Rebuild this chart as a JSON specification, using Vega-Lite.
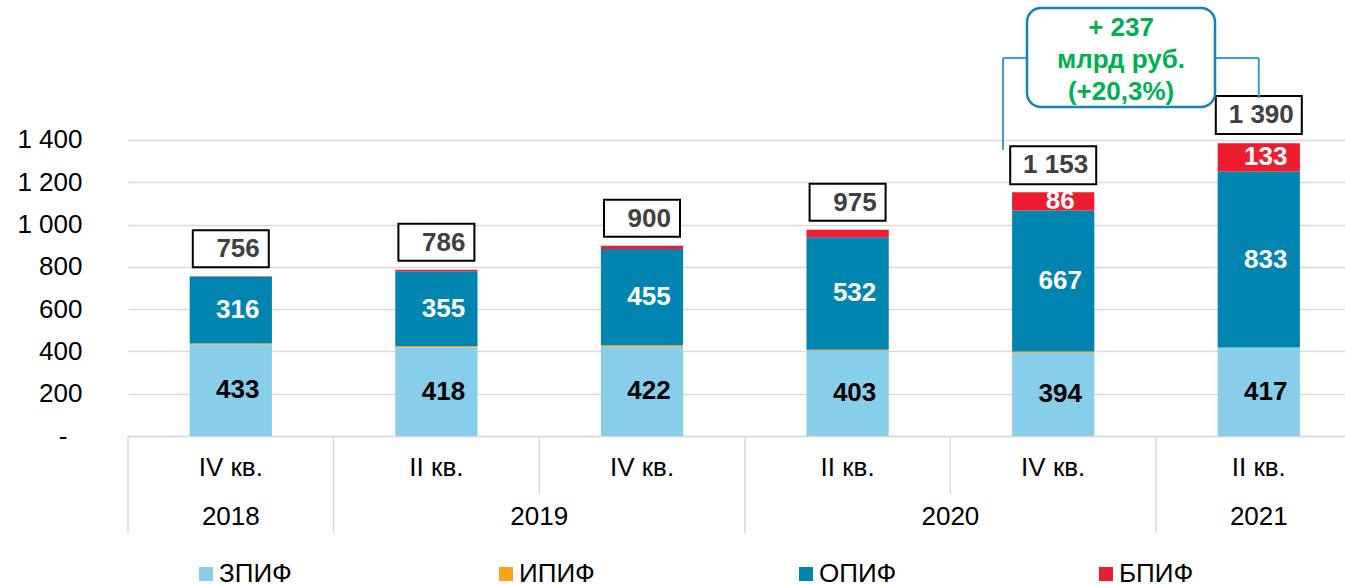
{
  "$schema": "https://vega.github.io/schema/vega-lite/v6.json",
  "width": 1217,
  "height": 436,
  "autosize": {"type": "none"},
  "padding": {"left": 128, "top": 0, "right": 0, "bottom": 148},
  "background": "white",
  "config": {
    "font": "Liberation Sans",
    "view": {"stroke": null},
    "text": {"font": "Liberation Sans"},
    "legend": {
      "orient": "none", "legendX": 65, "legendY": 561, "direction": "horizontal",
      "columns": 4, "gridAlign": "all", "columnPadding": 196, "symbolType": "square",
      "symbolSize": 196, "labelFontSize": 26, "labelFont": "Liberation Sans", "labelColor": "#000000",
      "labelOffset": 0, "padding": 0, "symbolStrokeWidth": 0, "labelLimit": 300
    }
  },
  "datasets": {
    "funds": [
      {"cat": "IV кв.|2018", "s": "ЗПИФ", "v": 433},
      {"cat": "IV кв.|2018", "s": "ИПИФ", "v": 5},
      {"cat": "IV кв.|2018", "s": "ОПИФ", "v": 316},
      {"cat": "IV кв.|2018", "s": "БПИФ", "v": 2},
      {"cat": "II кв.|2019", "s": "ЗПИФ", "v": 418},
      {"cat": "II кв.|2019", "s": "ИПИФ", "v": 6},
      {"cat": "II кв.|2019", "s": "ОПИФ", "v": 355},
      {"cat": "II кв.|2019", "s": "БПИФ", "v": 7},
      {"cat": "IV кв.|2019", "s": "ЗПИФ", "v": 422},
      {"cat": "IV кв.|2019", "s": "ИПИФ", "v": 7},
      {"cat": "IV кв.|2019", "s": "ОПИФ", "v": 455},
      {"cat": "IV кв.|2019", "s": "БПИФ", "v": 16},
      {"cat": "II кв.|2020", "s": "ЗПИФ", "v": 403},
      {"cat": "II кв.|2020", "s": "ИПИФ", "v": 5},
      {"cat": "II кв.|2020", "s": "ОПИФ", "v": 532},
      {"cat": "II кв.|2020", "s": "БПИФ", "v": 35},
      {"cat": "IV кв.|2020", "s": "ЗПИФ", "v": 394},
      {"cat": "IV кв.|2020", "s": "ИПИФ", "v": 6},
      {"cat": "IV кв.|2020", "s": "ОПИФ", "v": 667},
      {"cat": "IV кв.|2020", "s": "БПИФ", "v": 86},
      {"cat": "II кв.|2021", "s": "ЗПИФ", "v": 417},
      {"cat": "II кв.|2021", "s": "ИПИФ", "v": 1},
      {"cat": "II кв.|2021", "s": "ОПИФ", "v": 833},
      {"cat": "II кв.|2021", "s": "БПИФ", "v": 133}
    ],
    "totals": [
      {"cat": "IV кв.|2018", "total": 756, "label": "756"},
      {"cat": "II кв.|2019", "total": 786, "label": "786"},
      {"cat": "IV кв.|2019", "total": 900, "label": "900"},
      {"cat": "II кв.|2020", "total": 975, "label": "975"},
      {"cat": "IV кв.|2020", "total": 1153, "label": "1 153"},
      {"cat": "II кв.|2021", "total": 1390, "label": "1 390"}
    ],
    "cats": [
      {"cat": "IV кв.|2018", "q": "IV кв.", "year": "2018"},
      {"cat": "II кв.|2019", "q": "II кв.", "year": "2019"},
      {"cat": "IV кв.|2019", "q": "IV кв.", "year": "2019"},
      {"cat": "II кв.|2020", "q": "II кв.", "year": "2020"},
      {"cat": "IV кв.|2020", "q": "IV кв.", "year": "2020"},
      {"cat": "II кв.|2021", "q": "II кв.", "year": "2021"}
    ]
  },
  "layer": [
    {
      "data": {"name": "funds"},
      "transform": [
        {"calculate": "indexof(['ЗПИФ','ИПИФ','ОПИФ','БПИФ'], datum.s)", "as": "o"},
        {"stack": "v", "groupby": ["cat"], "sort": [{"field": "o"}], "as": ["v0", "v1"]}
      ],
      "mark": {"type": "bar", "width": {"band": 0.4}},
      "encoding": {
        "x": {
          "field": "cat", "type": "nominal", "sort": null,
          "scale": {"domain": ["IV кв.|2018", "II кв.|2019", "IV кв.|2019", "II кв.|2020", "IV кв.|2020", "II кв.|2021"], "range": [0, 1233.6], "paddingInner": 0, "paddingOuter": 0},
          "axis": {
            "title": null, "labelExpr": "split(datum.value, '|')[0]", "labelFontSize": 26, "labelColor": "#000000",
            "labelFont": "Liberation Sans", "labelBaseline": "middle", "labelPadding": 31, "ticks": false, "tickSize": 0,
            "domain": true, "domainColor": "#d9d9d9", "domainWidth": 1.5, "grid": false, "labelAngle": 0
          }
        },
        "y": {
          "field": "v0", "type": "quantitative",
          "scale": {"domain": [0, 2062], "nice": false},
          "axis": {
            "title": null, "values": [0, 200, 400, 600, 800, 1000, 1200, 1400],
            "labelExpr": "datum.value == 0 ? '-' : replace(format(datum.value, ','), ',', ' ')",
            "labelFontSize": 26, "labelColor": "#000000", "labelFont": "Liberation Sans",
            "labelPadding": {"condition": {"test": "datum.value == 0", "value": 61}, "value": 46},
            "ticks": false, "tickSize": 0, "domain": false, "grid": true, "gridColor": "#d9d9d9", "gridWidth": 1.5
          }
        },
        "y2": {"field": "v1"},
        "color": {
          "field": "s", "type": "nominal",
          "scale": {"domain": ["ЗПИФ", "ИПИФ", "ОПИФ", "БПИФ"], "range": ["#87CEEB", "#F9A51B", "#0085B0", "#ED1C2E"]},
          "legend": {"title": null}
        }
      }
    },
    {
      "data": {"name": "funds"},
      "transform": [
        {"calculate": "indexof(['ЗПИФ','ИПИФ','ОПИФ','БПИФ'], datum.s)", "as": "o"},
        {"stack": "v", "groupby": ["cat"], "sort": [{"field": "o"}], "as": ["v0", "v1"]},
        {"calculate": "(datum.v0 + datum.v1) / 2", "as": "mid"},
        {"filter": "datum.s != 'ИПИФ' && datum.v >= 50"}
      ],
      "mark": {"type": "text", "fontSize": 26, "fontWeight": "bold", "baseline": "middle", "align": "center", "dx": 7},
      "encoding": {
        "x": {"field": "cat", "type": "nominal", "title": null, "scale": {"domain": ["IV кв.|2018", "II кв.|2019", "IV кв.|2019", "II кв.|2020", "IV кв.|2020", "II кв.|2021"], "range": [0, 1233.6], "paddingInner": 0, "paddingOuter": 0}},
        "y": {"field": "mid", "type": "quantitative", "title": null, "scale": {"domain": [0, 2062], "nice": false}},
        "text": {"field": "v", "type": "quantitative"},
        "color": {
          "condition": {"test": "datum.s == 'ЗПИФ'", "value": "#000000"},
          "value": "#ffffff"
        }
      }
    },
    {
      "data": {"name": "cats"},
      "transform": [{"filter": "datum.q == 'II кв.' || datum.year == '2018'"}],
      "mark": {"type": "rule", "color": "#d9d9d9", "strokeWidth": 1.5},
      "encoding": {
        "x": {"field": "cat", "type": "nominal", "bandPosition": 0, "title": null, "scale": {"domain": ["IV кв.|2018", "II кв.|2019", "IV кв.|2019", "II кв.|2020", "IV кв.|2020", "II кв.|2021"], "range": [0, 1233.6], "paddingInner": 0, "paddingOuter": 0}},
        "y": {"datum": 0, "type": "quantitative", "title": null, "scale": {"domain": [0, 2062], "nice": false}},
        "y2": {"datum": -459}
      }
    },
    {
      "data": {"name": "cats"},
      "transform": [{"filter": "datum.q == 'IV кв.' && datum.year != '2018'"}],
      "mark": {"type": "rule", "color": "#d9d9d9", "strokeWidth": 1.5},
      "encoding": {
        "x": {"field": "cat", "type": "nominal", "bandPosition": 0, "title": null, "scale": {"domain": ["IV кв.|2018", "II кв.|2019", "IV кв.|2019", "II кв.|2020", "IV кв.|2020", "II кв.|2021"], "range": [0, 1233.6], "paddingInner": 0, "paddingOuter": 0}},
        "y": {"datum": 0, "type": "quantitative", "title": null, "scale": {"domain": [0, 2062], "nice": false}},
        "y2": {"datum": -275}
      }
    },
    {
      "data": {"name": "cats"},
      "transform": [{"filter": "datum.year == '2018' || datum.year == '2021'"}],
      "mark": {"type": "text", "fontSize": 26, "color": "#000000", "baseline": "middle", "align": "center"},
      "encoding": {
        "x": {"field": "cat", "type": "nominal", "bandPosition": 0.5, "title": null, "scale": {"domain": ["IV кв.|2018", "II кв.|2019", "IV кв.|2019", "II кв.|2020", "IV кв.|2020", "II кв.|2021"], "range": [0, 1233.6], "paddingInner": 0, "paddingOuter": 0}},
        "y": {"datum": -383, "type": "quantitative", "title": null, "scale": {"domain": [0, 2062], "nice": false}},
        "text": {"field": "year"}
      }
    },
    {
      "data": {"name": "cats"},
      "transform": [{"filter": "(datum.year == '2019' || datum.year == '2020') && datum.q == 'II кв.'"}],
      "mark": {"type": "text", "fontSize": 26, "color": "#000000", "baseline": "middle", "align": "center"},
      "encoding": {
        "x": {"field": "cat", "type": "nominal", "bandPosition": 1, "title": null, "scale": {"domain": ["IV кв.|2018", "II кв.|2019", "IV кв.|2019", "II кв.|2020", "IV кв.|2020", "II кв.|2021"], "range": [0, 1233.6], "paddingInner": 0, "paddingOuter": 0}},
        "y": {"datum": -383, "type": "quantitative", "title": null, "scale": {"domain": [0, 2062], "nice": false}},
        "text": {"field": "year"}
      }
    },
    {
      "data": {"name": "totals"},
      "transform": [{"filter": "datum.total < 1000"}],
      "mark": {"type": "bar", "width": 76, "fill": "#ffffff", "stroke": "#000000", "strokeWidth": 2, "yOffset": -9, "y2Offset": -46},
      "encoding": {
        "x": {"field": "cat", "type": "nominal", "title": null, "scale": {"domain": ["IV кв.|2018", "II кв.|2019", "IV кв.|2019", "II кв.|2020", "IV кв.|2020", "II кв.|2021"], "range": [0, 1233.6], "paddingInner": 0, "paddingOuter": 0}},
        "y": {"field": "total", "type": "quantitative", "title": null, "scale": {"domain": [0, 2062], "nice": false}},
        "y2": {"field": "total"}
      }
    },
    {
      "data": {"name": "totals"},
      "transform": [{"filter": "datum.total >= 1000"}],
      "mark": {"type": "bar", "width": 86, "fill": "#ffffff", "stroke": "#000000", "strokeWidth": 2, "yOffset": -8, "y2Offset": -46},
      "encoding": {
        "x": {"field": "cat", "type": "nominal", "title": null, "scale": {"domain": ["IV кв.|2018", "II кв.|2019", "IV кв.|2019", "II кв.|2020", "IV кв.|2020", "II кв.|2021"], "range": [0, 1233.6], "paddingInner": 0, "paddingOuter": 0}},
        "y": {"field": "total", "type": "quantitative", "title": null, "scale": {"domain": [0, 2062], "nice": false}},
        "y2": {"field": "total"}
      }
    },
    {
      "data": {"name": "totals"},
      "transform": [{"filter": "datum.total < 1000"}],
      "mark": {"type": "text", "fontSize": 26, "fontWeight": "bold", "color": "#404040", "baseline": "middle", "align": "right", "dx": 29, "dy": -27},
      "encoding": {
        "x": {"field": "cat", "type": "nominal", "title": null, "scale": {"domain": ["IV кв.|2018", "II кв.|2019", "IV кв.|2019", "II кв.|2020", "IV кв.|2020", "II кв.|2021"], "range": [0, 1233.6], "paddingInner": 0, "paddingOuter": 0}},
        "y": {"field": "total", "type": "quantitative", "title": null, "scale": {"domain": [0, 2062], "nice": false}},
        "text": {"field": "label"}
      }
    },
    {
      "data": {"name": "totals"},
      "transform": [{"filter": "datum.total >= 1000"}],
      "mark": {"type": "text", "fontSize": 26, "fontWeight": "bold", "color": "#404040", "baseline": "middle", "align": "right", "dx": 35, "dy": -27},
      "encoding": {
        "x": {"field": "cat", "type": "nominal", "title": null, "scale": {"domain": ["IV кв.|2018", "II кв.|2019", "IV кв.|2019", "II кв.|2020", "IV кв.|2020", "II кв.|2021"], "range": [0, 1233.6], "paddingInner": 0, "paddingOuter": 0}},
        "y": {"field": "total", "type": "quantitative", "title": null, "scale": {"domain": [0, 2062], "nice": false}},
        "text": {"field": "label"}
      }
    },
    {
      "data": {"values": [{}]},
      "mark": {"type": "rule", "color": "#3A9FC8", "strokeWidth": 2},
      "encoding": {
        "x": {"datum": "IV кв.|2020", "type": "nominal", "bandPosition": 0.256, "title": null, "scale": {"domain": ["IV кв.|2018", "II кв.|2019", "IV кв.|2019", "II кв.|2020", "IV кв.|2020", "II кв.|2021"], "range": [0, 1233.6], "paddingInner": 0, "paddingOuter": 0}},
        "x2": {"datum": "IV кв.|2020", "bandPosition": 0.38},
        "y": {"datum": 1788, "type": "quantitative", "title": null, "scale": {"domain": [0, 2062], "nice": false}}
      }
    },
    {
      "data": {"values": [{}]},
      "mark": {"type": "rule", "color": "#3A9FC8", "strokeWidth": 2},
      "encoding": {
        "x": {"datum": "IV кв.|2020", "type": "nominal", "bandPosition": 0.256, "title": null, "scale": {"domain": ["IV кв.|2018", "II кв.|2019", "IV кв.|2019", "II кв.|2020", "IV кв.|2020", "II кв.|2021"], "range": [0, 1233.6], "paddingInner": 0, "paddingOuter": 0}},
        "y": {"datum": 1788, "type": "quantitative", "title": null, "scale": {"domain": [0, 2062], "nice": false}},
        "y2": {"datum": 1353}
      }
    },
    {
      "data": {"values": [{}]},
      "mark": {"type": "rule", "color": "#3A9FC8", "strokeWidth": 2},
      "encoding": {
        "x": {"datum": "II кв.|2021", "type": "nominal", "bandPosition": 0.28, "title": null, "scale": {"domain": ["IV кв.|2018", "II кв.|2019", "IV кв.|2019", "II кв.|2020", "IV кв.|2020", "II кв.|2021"], "range": [0, 1233.6], "paddingInner": 0, "paddingOuter": 0}},
        "x2": {"datum": "II кв.|2021", "bandPosition": 0.5},
        "y": {"datum": 1788, "type": "quantitative", "title": null, "scale": {"domain": [0, 2062], "nice": false}}
      }
    },
    {
      "data": {"values": [{}]},
      "mark": {"type": "rule", "color": "#3A9FC8", "strokeWidth": 2},
      "encoding": {
        "x": {"datum": "II кв.|2021", "type": "nominal", "bandPosition": 0.5, "title": null, "scale": {"domain": ["IV кв.|2018", "II кв.|2019", "IV кв.|2019", "II кв.|2020", "IV кв.|2020", "II кв.|2021"], "range": [0, 1233.6], "paddingInner": 0, "paddingOuter": 0}},
        "y": {"datum": 1788, "type": "quantitative", "title": null, "scale": {"domain": [0, 2062], "nice": false}},
        "y2": {"datum": 1599}
      }
    },
    {
      "data": {"values": [{}]},
      "mark": {"type": "rect", "fill": "#ffffff", "stroke": "#1484B6", "strokeWidth": 2.5, "cornerRadius": 14},
      "encoding": {
        "x": {"datum": "IV кв.|2020", "type": "nominal", "bandPosition": 0.3726, "title": null, "scale": {"domain": ["IV кв.|2018", "II кв.|2019", "IV кв.|2019", "II кв.|2020", "IV кв.|2020", "II кв.|2021"], "range": [0, 1233.6], "paddingInner": 0, "paddingOuter": 0}},
        "x2": {"datum": "II кв.|2021", "bandPosition": 0.287},
        "y": {"datum": 2024, "type": "quantitative", "title": null, "scale": {"domain": [0, 2062], "nice": false}},
        "y2": {"datum": 1556}
      }
    },
    {
      "data": {"values": [{}]},
      "mark": {"type": "text", "fontSize": 26, "fontWeight": "bold", "color": "#00B050", "align": "center", "baseline": "middle", "lineBreak": "\n", "lineHeight": 32},
      "encoding": {
        "x": {"datum": "IV кв.|2020", "type": "nominal", "bandPosition": 0.83, "title": null, "scale": {"domain": ["IV кв.|2018", "II кв.|2019", "IV кв.|2019", "II кв.|2020", "IV кв.|2020", "II кв.|2021"], "range": [0, 1233.6], "paddingInner": 0, "paddingOuter": 0}},
        "y": {"datum": 1929, "type": "quantitative", "title": null, "scale": {"domain": [0, 2062], "nice": false}},
        "text": {"value": "+ 237\nмлрд руб.\n(+20,3%)"}
      }
    }
  ]
}
